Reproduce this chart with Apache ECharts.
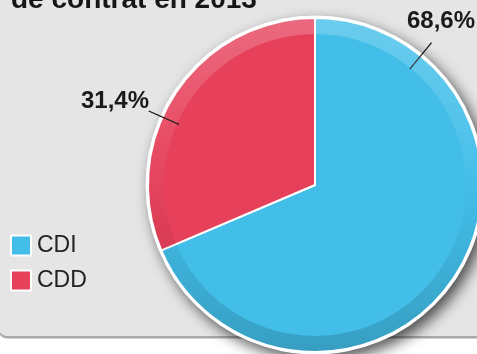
<!DOCTYPE html>
<html><head><meta charset="utf-8">
<script src="https://cdn.jsdelivr.net/npm/echarts@6/dist/echarts.min.js"></script>
<style>html,body{margin:0;padding:0;background:#fff}#c{width:477px;height:354px}</style>
</head><body><div id="c"></div>
<script>
// ---- data ----
const titleText = 'de contrat en 2013';
const categories = ['CDI', 'CDD'];
const values = [68.6, 31.4];

// ---- layout / style ----
const fmt = v => v.toFixed(1).replace('.', ',') + '%';
const CX = 315, CY = 185;
const R_OUT = 167, R_RING = 151;
const colors = ['#42bee9', '#e6405a'];
const labelSpec = [
  {ang: 39.3, r0: 150, r1: 184, lx: 441, ly: 21},
  {ang: -66, r0: 149, r1: 182, lx: 115, ly: 101}
];
const pt = (ang, r) => [CX + r * Math.sin(ang * Math.PI / 180), CY - r * Math.cos(ang * Math.PI / 180)];
const FONT = 'Liberation Sans, Arial, sans-serif';

const chart = echarts.init(document.getElementById('c'), null, {renderer: 'canvas'});
const ringGrad = new echarts.graphic.LinearGradient(0, CY - R_OUT, 0, CY + R_OUT, [
  {offset: 0, color: 'rgba(255,255,255,0.22)'},
  {offset: 0.45, color: 'rgba(255,255,255,0.04)'},
  {offset: 0.6, color: 'rgba(0,0,0,0.03)'},
  {offset: 1, color: 'rgba(0,0,0,0.17)'}
], true);

chart.setOption({
  animation: false,
  backgroundColor: '#fff',
  title: {
    text: titleText, left: 6, top: -19,
    textStyle: {fontSize: 28, fontWeight: 'bold', color: '#161616', fontFamily: FONT}
  },
  graphic: [
    {type: 'rect', z: -20, silent: true, shape: {x: -1, y: -20, width: 500, height: 358.5, r: 8}, style: {fill: '#a9a9a9'}},
    {type: 'rect', z: -19, silent: true, shape: {x: -1, y: -20, width: 500, height: 356, r: 8}, style: {fill: '#e5e5e5'}}
  ],
  legend: {
    data: categories, orient: 'vertical', left: 10, top: 234, padding: 0,
    itemWidth: 20, itemHeight: 20, itemGap: 12, icon: 'rect',
    itemStyle: {borderColor: '#fff', borderWidth: 2},
    textStyle: {fontSize: 23, color: '#222', fontFamily: FONT, padding: [0, 0, 0, 1]}
  },
  series: [
    {
      type: 'pie', name: 'bg', z: 1, silent: true, center: [CX, CY], radius: [0, R_OUT + 2.5],
      label: {show: false}, labelLine: {show: false},
      data: [{name: 'bg', value: 1, itemStyle: {color: '#fff', shadowBlur: 14, shadowOffsetX: 5, shadowOffsetY: 6, shadowColor: 'rgba(0,0,0,0.65)'}}]
    },
    {
      type: 'pie', name: 'main', z: 2, silent: true, center: [CX, CY], radius: [0, R_OUT],
      startAngle: 90, clockwise: true,
      label: {show: false}, labelLine: {show: false},
      itemStyle: {borderColor: '#fff', borderWidth: 2},
      data: categories.map((c, i) => ({name: c, value: values[i], itemStyle: {color: colors[i]}}))
    },
    {
      type: 'pie', name: 'ring', z: 3, silent: true, center: [CX, CY], radius: [R_RING, R_OUT - 1],
      startAngle: 90, clockwise: true,
      itemStyle: {color: ringGrad, borderWidth: 0},
      label: {
        show: true, position: 'outside', formatter: p => fmt(p.value), overflow: 'none',
        fontSize: 24, fontWeight: 'bold', color: '#1a1a1a', fontFamily: FONT
      },
      labelLine: {show: true, lineStyle: {color: '#111', width: 1.2}},
      labelLayout: function (params) {
        const s = labelSpec[params.dataIndex];
        return {
          x: s.lx, y: s.ly, align: 'center', verticalAlign: 'middle', width: 100,
          labelLinePoints: [pt(s.ang, s.r0), pt(s.ang, s.r1), pt(s.ang, s.r1)]
        };
      },
      data: categories.map((c, i) => ({name: c, value: values[i]}))
    }
  ]
});
</script></body></html>
